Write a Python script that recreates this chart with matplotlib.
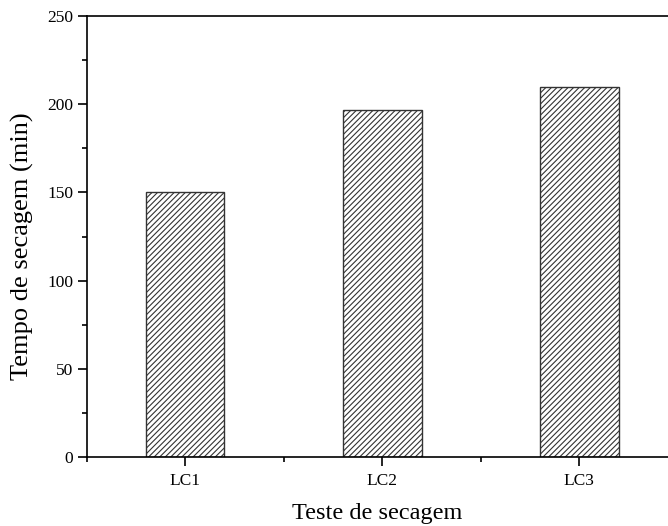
import matplotlib
matplotlib.use("Agg")
import matplotlib.pyplot as plt
from matplotlib.ticker import MultipleLocator

categories = ["LC1", "LC2", "LC3"]
values = [150, 197, 210]

plt.rcParams['font.family'] = ['Liberation Serif', 'DejaVu Serif']
plt.rcParams['hatch.color'] = '#606060'
plt.rcParams['hatch.linewidth'] = 0.8

fig = plt.figure(figsize=(6.68, 5.26), dpi=100)
ax = fig.add_axes([0.1295, 0.131, 1.0 - 0.1295, 0.9696 - 0.131])

x = list(range(1, len(categories) + 1))
ax.bar(x, values, width=0.4, facecolor='white', edgecolor='#333333',
       linewidth=1.0, hatch='//////')

ax.set_xlim(0.5, 3.45)
ax.set_ylim(0, 250)
ax.set_xticks(x)
ax.set_xticklabels(categories)
ax.xaxis.set_minor_locator(MultipleLocator(0.5))
ax.yaxis.set_major_locator(MultipleLocator(50))
ax.yaxis.set_minor_locator(MultipleLocator(25))
ax.tick_params(axis='both', which='major', direction='out', length=6.5, width=1.2,
               labelsize=12.5, pad=3)
ax.tick_params(axis='x', which='major', pad=5)
ax.tick_params(axis='both', which='minor', direction='out', length=3.3, width=1.2)
ax.spines['right'].set_visible(False)
for s in ['left', 'bottom', 'top']:
    ax.spines[s].set_linewidth(1.2)

ax.set_xlabel("Teste de secagem", fontsize=17.5, labelpad=10)
ax.set_ylabel("Tempo de secagem (min)", fontsize=19)
ax.yaxis.set_label_coords(-0.09, 0.478)

fig.savefig("out.png", dpi=100)
